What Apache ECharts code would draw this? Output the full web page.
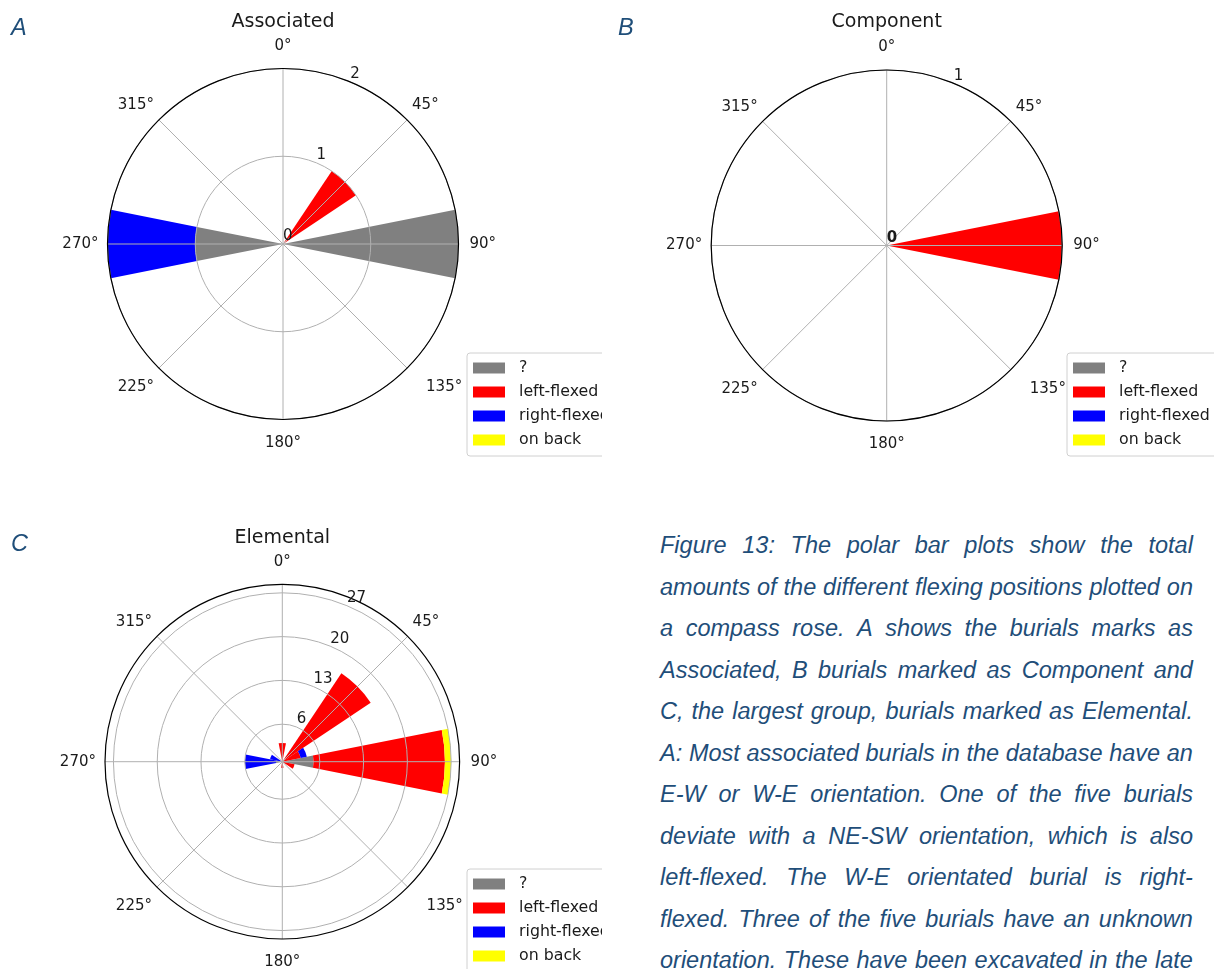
<!DOCTYPE html>
<html>
<head>
<meta charset="utf-8">
<script src="https://cdn.jsdelivr.net/npm/echarts@6/dist/echarts.min.js"></script>
<style>
html,body{margin:0;padding:0;background:#fff;overflow:hidden;}
body{width:1214px;height:969px;position:relative;}
.panel{position:absolute;}
.letter{position:absolute;font-family:"Liberation Sans",Arial,sans-serif;font-style:italic;font-size:23.5px;line-height:1;color:#1F4E79;}
#caption{position:absolute;left:660px;top:525px;width:533px;font-family:"Liberation Sans",Arial,sans-serif;font-style:italic;font-size:23.5px;color:#1F4E79;}
.line{display:flex;justify-content:space-between;height:41.5px;line-height:41.5px;white-space:nowrap;}
</style>
</head>
<body>
<div class="panel" id="pA" style="left:0px;top:0px;width:602px;height:465px;"></div>
<div class="panel" id="pB" style="left:605px;top:0px;width:609px;height:465px;"></div>
<div class="panel" id="pC" style="left:0px;top:520px;width:602px;height:490px;"></div>
<div class="letter" style="left:11px;top:15.5px;">A</div>
<div class="letter" style="left:618px;top:16px;">B</div>
<div class="letter" style="left:11px;top:532px;">C</div>
<div id="caption"></div>
<script>
// ---- data (16 compass bins, 22.5° apart, clockwise from North) ----
const directions = ['0','22.5','45','67.5','90','112.5','135','157.5','180','202.5','225','247.5','270','292.5','315','337.5'];
const seriesNames = ['?', 'left-flexed', 'right-flexed', 'on back'];
const seriesColors = ['#808080', '#ff0000', '#0000ff', '#ffff00'];

// A: Associated
const assocUnknown = [0,0,0,0,2,0,0,0,0,0,0,0,1,0,0,0];
const assocLeft    = [0,0,1,0,0,0,0,0,0,0,0,0,0,0,0,0];
const assocRight   = [0,0,0,0,0,0,0,0,0,0,0,0,1,0,0,0];
const assocBack    = [0,0,0,0,0,0,0,0,0,0,0,0,0,0,0,0];
const assocRadiusTicks = [0, 1, 2];
const assocRadiusMax = 2;

// B: Component
const compUnknown = [0,0,0,0,0,0,0,0,0,0,0,0,0,0,0,0];
const compLeft    = [0,0,0,0,1,0,0,0,0,0,0,0,0,0,0,0];
const compRight   = [0,0,0,0,0,0,0,0,0,0,0,0,0,0,0,0];
const compBack    = [0,0,0,0,0,0,0,0,0,0,0,0,0,0,0,0];
const compRadiusTicks = [0, 1];
const compRadiusMax = 1;

// C: Elemental
const elemUnknown = [0,0,0,0,5,0,0,0,0,0,0,0,1,0,0,0];
const elemLeft    = [3,0,17,3,21,2,0,0,1,0,0,0,0,0,0,0];
const elemRight   = [0,0,0,1,0,0,0,0,0,0,0,0,5,2,0,0];
const elemBack    = [0,0,0,0,1,0,0,0,0,0,0,0,0,0,0,0];
const elemRadiusTicks = [6, 13, 20, 27];
const elemRadiusMax = 28.35;

const angleTickStep = 45;

const captionLines = [
  'Figure 13: The polar bar plots show the total',
  'amounts of the different flexing positions plotted on',
  'a compass rose. A shows the burials marks as',
  'Associated, B burials marked as Component and',
  'C, the largest group, burials marked as Elemental.',
  'A: Most associated burials in the database have an',
  'E-W or W-E orientation. One of the five burials',
  'deviate with a NE-SW orientation, which is also',
  'left-flexed. The W-E orientated burial is right-',
  'flexed. Three of the five burials have an unknown',
  'orientation. These have been excavated in the late'
];

// ---- caption ----
const cap = document.getElementById('caption');
captionLines.forEach(function (l) {
  const d = document.createElement('div');
  d.className = 'line';
  l.split(' ').forEach(function (w) {
    const s = document.createElement('span');
    s.textContent = w;
    d.appendChild(s);
  });
  cap.appendChild(d);
});

const FONT = '"DejaVu Sans", sans-serif';
const GRID = '#b0b0b0';
const TXT = '#1a1a1a';

function angleLabel(v) {
  if (v === 360) return '';
  const t = v + '°';
  const key = {0: 'n', 45: 'ne', 90: 'e', 135: 'se', 180: 's', 225: 'sw', 270: 'w', 315: 'nw'}[v] || 'ne';
  return '{' + key + '|' + t + '}';
}
function rs(pad) { return {fontFamily: FONT, fontSize: 15, color: TXT, padding: pad}; }
const angleRich = {
  n: rs([0, 0, 8, 0]),
  s: rs([9, 0, 0, 0]),
  e: rs([0, 0, 0, 4]),
  w: rs([0, 2, 0, 0]),
  ne: rs([0, 0, 2, 0]),
  nw: rs([0, 0, 2, 0]),
  se: rs([7, 0, 0, 14]),
  sw: rs([7, 0, 0, 0])
};

function makeOption(cfg) {
  const polar = {center: [cfg.cx, cfg.cy], radius: cfg.R};
  const vals = [cfg.unknown, cfg.left, cfg.right, cfg.back];
  return {
    animation: false,
    title: {
      text: cfg.title, left: cfg.cx, top: cfg.titleTop, textAlign: 'center', padding: 0,
      textStyle: {fontFamily: FONT, fontSize: 19, fontWeight: 'normal', color: TXT}
    },
    legend: {
      data: seriesNames, orient: 'vertical', left: cfg.legendLeft, top: cfg.legendTop,
      padding: [7, 60, 8, 6], itemGap: 8, itemWidth: 32, itemHeight: 11, icon: 'rect',
      borderColor: '#d0d0d0', borderWidth: 1, borderRadius: 3, backgroundColor: '#ffffff',
      selectedMode: false,
      textStyle: {fontFamily: FONT, fontSize: 15.8, lineHeight: 16, color: TXT, padding: [0, 0, 0, 9]}
    },
    polar: [polar, polar, polar],
    angleAxis: [
      {polarIndex: 0, type: 'category', data: directions, startAngle: 90 + 11.25, clockwise: true,
       boundaryGap: true, show: false},
      {polarIndex: 1, type: 'value', min: 0, max: 360, interval: angleTickStep, startAngle: 90, clockwise: true,
       z: 10,
       axisLine: {show: true, lineStyle: {color: '#000', width: 1.2}},
       axisTick: {show: false},
       splitLine: {show: true, lineStyle: {color: GRID, width: 1}},
       axisLabel: {margin: 7, fontFamily: FONT, fontSize: 15, color: TXT,
                   formatter: angleLabel, rich: angleRich}},
      {polarIndex: 2, type: 'value', min: 0, max: 360, startAngle: 90 - 22.5, clockwise: true, show: false}
    ],
    radiusAxis: [
      {polarIndex: 0, type: 'value', min: 0, max: cfg.rmax, show: false},
      {polarIndex: 1, type: 'value', min: 0, max: cfg.rmax, z: 10,
       axisLine: {show: false},
       axisTick: {show: false, customValues: cfg.ticks},
       axisLabel: {show: false, customValues: cfg.ticks},
       splitLine: {show: true, lineStyle: {color: GRID, width: 1}}},
      {polarIndex: 2, type: 'value', min: 0, max: cfg.rmax, z: 11,
       axisLine: {show: false},
       axisTick: {show: false, customValues: cfg.ticks},
       splitLine: {show: false},
       axisLabel: {show: true, customValues: cfg.ticks, margin: 0, align: 'left', verticalAlign: 'bottom',
                   showMinLabel: true, showMaxLabel: true, hideOverlap: false,
                   fontFamily: FONT, fontSize: 15, color: TXT,
                   formatter: function (v) { return cfg.boldZero && v === 0 ? '{b|0}' : String(v); },
                   rich: {b: {fontFamily: FONT, fontSize: 15, fontWeight: 'bold', color: TXT}}}}
    ],
    series: seriesNames.map(function (n, i) {
      return {
        name: n, type: 'bar', coordinateSystem: 'polar', polarIndex: 0, stack: 'total',
        data: vals[i], barCategoryGap: '0%', z: 2,
        itemStyle: {color: seriesColors[i]}
      };
    })
  };
}

const panels = [
  {id: 'pA', title: 'Associated', cx: 283, cy: 244, R: 175.5, titleTop: 13, legendLeft: 467, legendTop: 353,
   unknown: assocUnknown, left: assocLeft, right: assocRight, back: assocBack,
   ticks: assocRadiusTicks, rmax: assocRadiusMax},
  {id: 'pB', title: 'Component', cx: 281.7, cy: 245.5, R: 175.5, titleTop: 13, legendLeft: 462, legendTop: 353,
   unknown: compUnknown, left: compLeft, right: compRight, back: compBack,
   ticks: compRadiusTicks, rmax: compRadiusMax, boldZero: true},
  {id: 'pC', title: 'Elemental', cx: 282.3, cy: 241.7, R: 177.3, titleTop: 8.5, legendLeft: 467, legendTop: 349,
   unknown: elemUnknown, left: elemLeft, right: elemRight, back: elemBack,
   ticks: elemRadiusTicks, rmax: elemRadiusMax}
];

panels.forEach(function (p) {
  const chart = echarts.init(document.getElementById(p.id), null, {renderer: 'canvas'});
  chart.setOption(makeOption(p));
});
</script>
</body>
</html>
